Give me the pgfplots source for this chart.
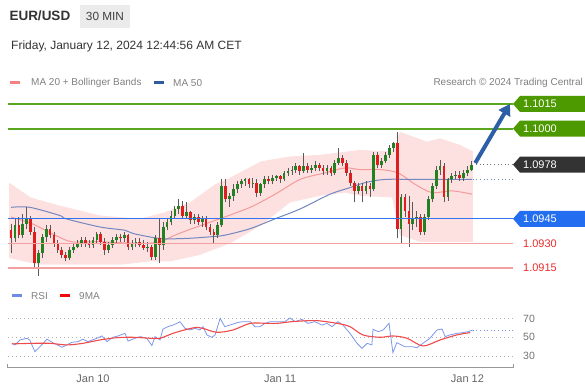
\documentclass[border=0pt]{standalone}
\usepackage{fontspec}
\setmainfont{Liberation Sans}
\usepackage{pgfplots}
\pgfplotsset{compat=1.18}
\usepackage{pgfplotstable}
\usetikzlibrary{arrows.meta}

\definecolor{bandcol}{RGB}{253,224,224}
\definecolor{ma20col}{RGB}{245,155,155}
\definecolor{ma50col}{RGB}{115,135,192}
\definecolor{lvgreen}{RGB}{90,166,30}
\definecolor{taggreen}{RGB}{76,153,0}
\definecolor{lvblue}{RGB}{50,115,240}
\definecolor{tagblue}{RGB}{35,110,240}
\definecolor{lvred}{RGB}{245,160,160}
\definecolor{txtred}{RGB}{235,45,45}
\definecolor{tagdark}{RGB}{51,51,51}
\definecolor{cgreen}{RGB}{34,130,34}
\definecolor{cred}{RGB}{222,30,30}
\definecolor{wick}{RGB}{90,90,90}
\definecolor{arrowcol}{RGB}{44,95,165}
\definecolor{rsicol}{RGB}{125,152,235}
\definecolor{macol}{RGB}{240,75,75}
\definecolor{swred}{RGB}{245,130,130}
\definecolor{swblue}{RGB}{45,90,160}
\definecolor{swrsi}{RGB}{110,140,230}
\definecolor{swma}{RGB}{240,10,10}

\pgfplotstableread{
i O H L C
-21 1.0938 1.0942 1.0924 1.0933
-20 1.0933 1.0945 1.0931 1.0941
-19 1.0941 1.0946 1.0933 1.0935
-18 1.0935 1.0948 1.0933 1.0942
-17 1.0942 1.0952 1.0939 1.0945
-16 1.0945 1.0947 1.0935 1.0937
-15 1.0937 1.0940 1.0915 1.0918
-14 1.0918 1.0926 1.0910 1.0924
-13 1.0924 1.0936 1.0921 1.0934
-12 1.0934 1.0941 1.0931 1.0939
-11 1.0939 1.0941 1.0933 1.0935
-10 1.0935 1.0937 1.0928 1.0930
-9 1.0930 1.0932 1.0924 1.0926
-8 1.0926 1.0928 1.0921 1.0923
-7 1.0923 1.0925 1.0919 1.0921
-6 1.0921 1.0928 1.0920 1.0926
-5 1.0926 1.0930 1.0924 1.0928
-4 1.0928 1.0932 1.0927 1.0930
-3 1.0930 1.0934 1.0928 1.0932
-2 1.0932 1.0934 1.0928 1.0930
-1 1.0930 1.0932 1.0927 1.0929
0 1.0929 1.0934 1.0927 1.0932
1 1.0932 1.0937 1.0930 1.0936
2 1.0936 1.0937 1.0929 1.0931
3 1.0931 1.0933 1.0923 1.0926
4 1.0926 1.0931 1.0924 1.0929
5 1.0929 1.0934 1.0927 1.0932
6 1.0932 1.0936 1.0930 1.0934
7 1.0934 1.0936 1.0931 1.0933
8 1.0933 1.0937 1.0931 1.0935
9 1.0935 1.0936 1.0926 1.0928
10 1.0928 1.0932 1.0926 1.0930
11 1.0930 1.0933 1.0928 1.0931
12 1.0931 1.0933 1.0928 1.0929
13 1.0929 1.0932 1.0926 1.0927
14 1.0927 1.0931 1.0925 1.0928
15 1.0928 1.0929 1.0920 1.0922
16 1.0922 1.0935 1.0920 1.0933
17 1.0933 1.0945 1.0918 1.0929
18 1.0929 1.0943 1.0926 1.0940
19 1.0940 1.0945 1.0938 1.0943
20 1.0943 1.0950 1.0941 1.0947
21 1.0947 1.0953 1.0945 1.0951
22 1.0951 1.0957 1.0948 1.0953
23 1.0953 1.0956 1.0945 1.0947
24 1.0947 1.0955 1.0945 1.0949
25 1.0949 1.0950 1.0942 1.0944
26 1.0944 1.0948 1.0942 1.0946
27 1.0946 1.0948 1.0941 1.0943
28 1.0943 1.0947 1.0940 1.0945
29 1.0945 1.0947 1.0938 1.0940
30 1.0940 1.0942 1.0935 1.0937
31 1.0937 1.0939 1.0930 1.0935
32 1.0935 1.0943 1.0933 1.0941
33 1.0941 1.0969 1.0940 1.0965
34 1.0965 1.0969 1.0955 1.0957
35 1.0957 1.0961 1.0952 1.0959
36 1.0959 1.0966 1.0956 1.0963
37 1.0963 1.0968 1.0961 1.0966
38 1.0966 1.0969 1.0964 1.0968
39 1.0968 1.0970 1.0965 1.0969
40 1.0969 1.0970 1.0964 1.0966
41 1.0966 1.0970 1.0964 1.0967
42 1.0967 1.0969 1.0958 1.0961
43 1.0961 1.0967 1.0959 1.0966
44 1.0966 1.0971 1.0964 1.0969
45 1.0969 1.0971 1.0966 1.0968
46 1.0968 1.0972 1.0966 1.0970
47 1.0970 1.0972 1.0968 1.0971
48 1.0971 1.0972 1.0967 1.0969
49 1.0969 1.0974 1.0968 1.0973
50 1.0973 1.0976 1.0971 1.0974
51 1.0974 1.0977 1.0972 1.0975
52 1.0975 1.0979 1.0973 1.0977
53 1.0977 1.0978 1.0972 1.0974
54 1.0974 1.0985 1.0973 1.0977
55 1.0977 1.0979 1.0973 1.0975
56 1.0975 1.0978 1.0973 1.0976
57 1.0976 1.0980 1.0974 1.0978
58 1.0978 1.0979 1.0974 1.0976
59 1.0976 1.0978 1.0972 1.0974
60 1.0974 1.0978 1.0972 1.0976
61 1.0976 1.0977 1.0971 1.0973
62 1.0973 1.0981 1.0972 1.0979
63 1.0979 1.0988 1.0978 1.0982
64 1.0982 1.0984 1.0977 1.0979
65 1.0979 1.0981 1.0971 1.0973
66 1.0973 1.0975 1.0965 1.0967
67 1.0967 1.0968 1.0955 1.0962
68 1.0962 1.0967 1.0960 1.0965
69 1.0965 1.0967 1.0955 1.0962
70 1.0962 1.0968 1.0960 1.0965
71 1.0965 1.0967 1.0958 1.0963
72 1.0963 1.0986 1.0962 1.0984
73 1.0984 1.0986 1.0976 1.0978
74 1.0978 1.0982 1.0976 1.0980
75 1.0980 1.0986 1.0979 1.0984
76 1.0984 1.0990 1.0982 1.0988
77 1.0988 1.0992 1.0986 1.0991
78 1.0991 1.0998 1.0933 1.0939
79 1.0939 1.0960 1.0930 1.0958
80 1.0958 1.0960 1.0946 1.0950
81 1.0950 1.0959 1.0928 1.0942
82 1.0942 1.0955 1.0938 1.0945
83 1.0945 1.0950 1.0940 1.0946
84 1.0946 1.0948 1.0935 1.0937
85 1.0937 1.0948 1.0935 1.0946
86 1.0946 1.0959 1.0944 1.0957
87 1.0957 1.0967 1.0955 1.0965
88 1.0965 1.0977 1.0963 1.0975
89 1.0975 1.0981 1.0972 1.0977
90 1.0977 1.0979 1.0955 1.0958
91 1.0958 1.0970 1.0956 1.0969
92 1.0969 1.0973 1.0967 1.0971
93 1.0971 1.0974 1.0969 1.0972
94 1.0972 1.0974 1.0968 1.0970
95 1.0970 1.0975 1.0968 1.0973
96 1.0973 1.0977 1.0971 1.0975
97 1.0975 1.0980 1.0974 1.0978
}\candles

\begin{document}
\begin{tikzpicture}[x=1pt,y=1pt]
\fill[white] (0,0) rectangle (585,390);

% header
\node[anchor=west, inner sep=0pt, font=\bfseries\fontsize{13.5}{15}\selectfont, text=black!80] at (9.3,374) {EUR/USD};
\fill[black!8] (80,362) rectangle (130,385);
\node[inner sep=0pt, font=\fontsize{11.8}{14}\selectfont, text=black!75] at (105,373.5) {30 MIN};
\node[anchor=west, inner sep=0pt, font=\fontsize{12}{14}\selectfont, text=black!80] at (11,344) {Friday, January 12, 2024 12:44:56 AM CET};

% legend
\fill[swred] (10,305.7) rectangle (20,308.7);
\node[anchor=west, inner sep=0pt, font=\fontsize{10}{12}\selectfont, text=black!50] at (31,307.3) {MA 20 + Bollinger Bands};
\fill[swblue] (154,305.7) rectangle (164,308.7);
\node[anchor=west, inner sep=0pt, font=\fontsize{10}{12}\selectfont, text=black!50] at (173,307.3) {MA 50};
\node[anchor=east, inner sep=0pt, font=\fontsize{10}{12}\selectfont, text=black!50] at (583,307.3) {Research \textcopyright{} 2024 Trading Central};

% RSI legend
\fill[swrsi] (12,92.5) rectangle (22,95.5);
\node[anchor=west, inner sep=0pt, font=\fontsize{10}{12}\selectfont, text=black!50] at (31,94) {RSI};
\fill[swma] (60,92.5) rectangle (70,95.5);
\node[anchor=west, inner sep=0pt, font=\fontsize{10}{12}\selectfont, text=black!50] at (79,94) {9MA};

% ---------------- main price panel (y shown in pips above 1.0900) ----------------
\begin{axis}[at={(8pt,105.6pt)}, anchor=south west, scale only axis,
  width=505pt, height=191.9pt,
  xmin=-21.79, xmax=107.69, ymin=5, ymax=122,
  y filter/.expression={(y-1.09)*10000},
  hide axis, clip=false]

% Bollinger band: upper edge left to right, then lower edge right to left
\addplot[fill=bandcol, draw=none] coordinates {
(-21.5,1.0967) (-16,1.0958) (-8.5,1.0953) (-3.3,1.0950) (1.8,1.0947) (12,1.0945)
(18.5,1.0949) (24.9,1.0955) (31.3,1.0966) (35.1,1.0970) (43.1,1.0980) (50.5,1.0983)
(58.2,1.0984) (68.5,1.0987) (76.7,1.0986) (78.7,1.0998) (85.6,1.0992) (89,1.0994)
(94.1,1.0990) (97.4,1.0986)
(97.4,1.0931) (83.8,1.0931) (78.7,1.0935) (76.7,1.0958) (68.5,1.0959) (64.6,1.0961)
(58.2,1.0959) (50.5,1.0955) (43.1,1.0941) (35.1,1.0930) (27.4,1.0923) (19.7,1.0919)
(14.6,1.0919) (6.9,1.0917) (-3.3,1.0917) (-13.6,1.0917) (-21.5,1.0921)} -- cycle;

% moving averages
\addplot[draw=ma20col, line width=1pt, smooth] coordinates {
(-21,1.0946) (-15.6,1.0942) (-9.7,1.0935) (-5.4,1.0931) (1.8,1.0931) (12,1.0930)
(17.2,1.0931) (21,1.0935) (25.4,1.0939) (31.3,1.0944) (40.3,1.0952) (46.7,1.0960)
(53.1,1.0969) (59.5,1.0973) (64.6,1.0976) (68.5,1.0975) (73.6,1.0975) (78.2,1.0973)
(82.6,1.0966) (86.9,1.0961) (92.1,1.0962) (97.2,1.0960)};
\addplot[draw=ma50col, line width=1pt, smooth] coordinates {
(-21,1.0952) (-16.2,1.0952) (-8.5,1.0947) (-6.9,1.0945) (1.8,1.0940) (8.2,1.0938)
(10.3,1.0936) (17.2,1.0933) (23.6,1.0933) (30,1.0934) (33.8,1.0935) (40.3,1.0939)
(46.7,1.0945) (53.1,1.0951) (60.8,1.0960) (65.9,1.0964) (69.7,1.0967) (74.9,1.0969)
(83.8,1.0969) (97.2,1.0969)};

% candle wicks (vertical segments from low to high)
\addplot[draw=wick, line width=0.8pt, mark=none,
  quiver={u=0, v=(\thisrow{H}-\thisrow{L})*10000}]
  table[x=i, y=L] {\candles};
% up bodies
\addplot[draw=cgreen, line width=2.7pt, mark=none,
  restrict expr to domain={(\thisrow{C}-\thisrow{O})*10000}{0:100},
  quiver={u=0, v=(\thisrow{C}-\thisrow{O})*10000}]
  table[x=i, y=O] {\candles};
% down bodies
\addplot[draw=cred, line width=2.7pt, mark=none,
  restrict expr to domain={(\thisrow{C}-\thisrow{O})*10000}{-100:0},
  quiver={u=0, v=(\thisrow{O}-\thisrow{C})*10000}]
  table[x=i, y=C] {\candles};

% level lines
\addplot[draw=lvred, line width=1.7pt] coordinates {(-21.79,1.0915) (107.69,1.0915)};
\addplot[draw=lvred, line width=1.7pt] coordinates {(-21.79,1.0930) (107.69,1.0930)};
\addplot[draw=lvblue, line width=1.3pt] coordinates {(-21.79,1.0945) (107.69,1.0945)};
\addplot[draw=lvgreen, line width=2pt] coordinates {(-21.79,1.1000) (107.69,1.1000)};
\addplot[draw=lvgreen, line width=2pt] coordinates {(-21.79,1.1015) (107.69,1.1015)};

% dotted extensions
\addplot[draw=black!55, line width=0.9pt, dash pattern=on 1pt off 2.6pt] coordinates {(98.2,1.0978) (107.69,1.0978)};
\addplot[draw=ma50col, line width=0.9pt, dash pattern=on 1pt off 2.6pt] coordinates {(97.4,1.0969) (107.69,1.0969)};

% forecast arrow
\addplot[draw=arrowcol, fill=arrowcol, line width=4pt, -{Triangle[length=11pt,width=13pt]}] coordinates {(98.0,1.0979) (106.9,1.1015)};

% price tags (axis cs in pips above 1.0900)
\fill[taggreen] (axis cs:107.69,115) -- ++(7pt,8pt) -- ++(65pt,0pt) -- ++(0pt,-16pt) -- ++(-65pt,0pt) -- cycle;
\node[anchor=west, inner sep=0pt, text=white, font=\fontsize{11}{13}\selectfont] at ([xshift=10pt]axis cs:107.69,115) {1.1015};
\fill[taggreen] (axis cs:107.69,100) -- ++(7pt,8pt) -- ++(65pt,0pt) -- ++(0pt,-16pt) -- ++(-65pt,0pt) -- cycle;
\node[anchor=west, inner sep=0pt, text=white, font=\fontsize{11}{13}\selectfont] at ([xshift=10pt]axis cs:107.69,100) {1.1000};
\fill[tagdark] (axis cs:107.69,78) -- ++(7pt,8pt) -- ++(65pt,0pt) -- ++(0pt,-16pt) -- ++(-65pt,0pt) -- cycle;
\node[anchor=west, inner sep=0pt, text=white, font=\fontsize{11}{13}\selectfont] at ([xshift=10pt]axis cs:107.69,78) {1.0978};
\fill[tagblue] (axis cs:107.69,45) -- ++(7pt,8pt) -- ++(65pt,0pt) -- ++(0pt,-16pt) -- ++(-65pt,0pt) -- cycle;
\node[anchor=west, inner sep=0pt, text=white, font=\fontsize{11}{13}\selectfont] at ([xshift=10pt]axis cs:107.69,45) {1.0945};
\node[anchor=west, inner sep=0pt, text=txtred, font=\fontsize{11}{13}\selectfont] at ([xshift=10pt]axis cs:107.69,30) {1.0930};
\node[anchor=west, inner sep=0pt, text=txtred, font=\fontsize{11}{13}\selectfont] at ([xshift=10pt]axis cs:107.69,15) {1.0915};
\end{axis}

% ---------------- RSI panel ----------------
\begin{axis}[at={(8pt,22pt)}, anchor=south west, scale only axis,
  width=505pt, height=68pt,
  xmin=-21.79, xmax=107.69, ymin=17.4, ymax=89.6,
  axis x line=bottom, axis y line=none, ytick=\empty,
  x axis line style={-, draw=black!40, line width=1pt},
  xtick={0,48,96}, xticklabels={Jan 10,Jan 11,Jan 12},
  major tick length=0pt,
  xticklabel style={text=black!60, font=\fontsize{11}{13}\selectfont, inner sep=0pt, anchor=north, yshift=-7pt},
  clip=false]
\addplot[draw=black!30, line width=0.9pt, dash pattern=on 1pt off 3pt] coordinates {(-21.79,70) (107.69,70)};
\addplot[draw=black!30, line width=0.9pt, dash pattern=on 1pt off 3pt] coordinates {(-21.79,50) (107.69,50)};
\addplot[draw=black!30, line width=0.9pt, dash pattern=on 1pt off 3pt] coordinates {(-21.79,30) (107.69,30)};

\addplot[draw=rsicol, line width=0.8pt] coordinates {
(-20.8,43.6) (-20,41.9) (-18.7,47.2) (-16.9,49) (-16.2,47) (-14.9,34.8) (-13.6,40)
(-11.8,48) (-10.3,44.3) (-7.9,39.4) (-6.7,41.9) (-5.4,44.7) (-3.8,45.4) (-2.6,48)
(-1.3,45.4) (1,49) (2.3,51.4) (3.6,45.4) (5.1,50) (6.4,51.4) (8.2,54.2) (9,46)
(10.8,49) (12.1,50.7) (13.8,49) (15.1,41.2) (15.9,50.7) (17.2,47.2) (17.9,58.5)
(19.2,61.3) (20.5,63) (21.5,64.8) (22.3,66.6) (23.6,59.5) (24.9,57.8) (26.2,59.5)
(27.4,57.8) (28.2,61.3) (29.2,52.5) (30.5,50) (31.3,52.5) (32.6,70.1) (33.8,61.3)
(35.1,63) (36.9,65.5) (38.2,66.6) (40.3,66.6) (41.5,61.3) (42.8,61.3) (44.1,64.8)
(45.4,66.6) (47.2,66.6) (49.2,66.6) (50.5,70.5) (51.8,66.6) (53.6,69) (55.1,64.8)
(56.9,66.6) (58.7,63) (60,64.8) (61.3,61.3) (62.8,66.6) (64.1,63) (65.9,54.2)
(67.7,43.6) (69,38.3) (70.3,43.6) (71.5,41.9) (71.8,58.5) (73.1,56) (74.4,57.8)
(75.9,64.8) (76.9,33.7) (77.9,44.3) (80,40) (81.8,40) (83.1,39) (84.6,43.6)
(86.4,49) (88.2,57.8) (89.5,58.8) (90.3,50.7) (91.5,52.5) (93.3,54.2) (94.9,55)
(96.2,56) (97.4,57.8)};
\addplot[draw=macol, line width=1.1pt, smooth] coordinates {
(-20.8,43) (-15.4,43.6) (-11,43.6) (-6.7,41.9) (-2.6,43.6) (1.8,47.2) (6.2,49.6)
(10.3,50) (14.6,49) (17.2,49) (20.5,54.2) (24.1,58.5) (26.7,60.6) (28.2,59.5)
(31.8,55.3) (35.9,57.8) (40.3,64.8) (44.6,64.8) (47.2,64.8) (50.5,66.4) (53.1,67.2)
(57.4,67.7) (62.6,64.8) (65.9,61.3) (69.2,52.5) (73.6,50) (76.9,51.4) (80.5,49)
(84.6,40.8) (89,47.2) (93.3,52.5) (96.7,55)};
\addplot[draw=rsicol, line width=0.9pt, dash pattern=on 1pt off 2.6pt] coordinates {(97.4,57.5) (107.69,57.5)};

\draw[black!40, line width=1pt] (axis cs:-21.79,17.4) -- (axis cs:-21.79,22);
\draw[black!40, line width=1pt] (axis cs:107.69,17.4) -- (axis cs:107.69,22);
\node[anchor=west, inner sep=0pt, text=black!55, font=\fontsize{10.5}{12}\selectfont] at ([xshift=10pt]axis cs:107.69,70) {70};
\node[anchor=west, inner sep=0pt, text=black!55, font=\fontsize{10.5}{12}\selectfont] at ([xshift=10pt]axis cs:107.69,50) {50};
\node[anchor=west, inner sep=0pt, text=black!55, font=\fontsize{10.5}{12}\selectfont] at ([xshift=10pt]axis cs:107.69,30) {30};
\end{axis}
\end{tikzpicture}
\end{document}
